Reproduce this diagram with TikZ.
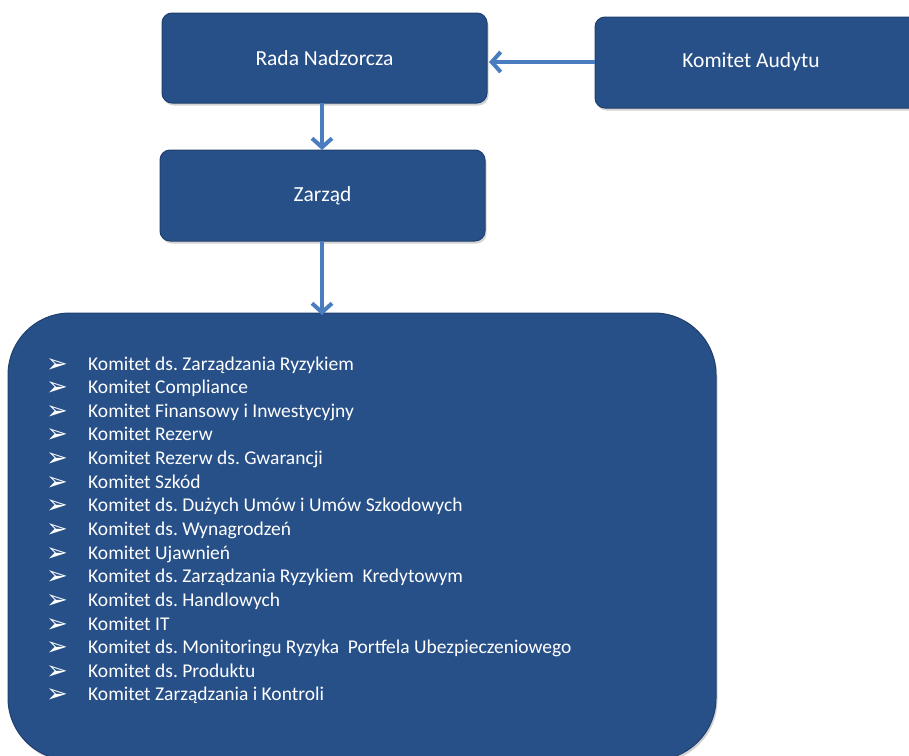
\documentclass[tikz,border=0pt]{standalone}
\usepackage{fontspec}
\setmainfont{Carlito}
\newfontfamily\symfont{DejaVu Sans}
\usetikzlibrary{arrows.meta,shadows}
\definecolor{boxfill}{HTML}{285088}
\definecolor{boxedge}{HTML}{1F3F6E}
\definecolor{arrowblue}{HTML}{4A7DC0}
\frenchspacing
\tikzset{
  orgbox/.style={draw=boxedge, line width=1pt, fill=boxfill, rounded corners=10pt,
    drop shadow={shadow xshift=1.5pt, shadow yshift=-2.5pt, opacity=0.35}},
  boxtext/.style={text=white, font=\fontsize{21.5}{24}\selectfont},
  link/.style={draw=arrowblue, line width=4pt, -{Straight Barb[length=9pt,width=20pt,line width=4pt]}},
  item/.style={text=white, anchor=base west, font=\fontsize{19.5}{22}\selectfont, inner sep=0pt},
  bullet/.style={text=white, anchor=base west, font=\symfont\fontsize{26}{28}\selectfont,
    inner sep=0pt, text height=14pt, text depth=0pt}
}
\begin{document}
\begin{tikzpicture}[x=1pt,y=-1pt]
\useasboundingbox (0,0) rectangle (909,755);
% boxes
\path[orgbox] (162,13) rectangle (487,103);
\node[boxtext] (rada) at (324.5,58) {Rada Nadzorcza};
\coordinate (radaE) at (489,62);
\coordinate (radaS) at (322,103);
\path[orgbox] (160,150) rectangle (485,241);
\node[boxtext] (zarzad) at (322.5,196) {Zarząd};
\coordinate (zarzadN) at (322,150);
\coordinate (zarzadS) at (322,241);
\path[orgbox] (595,17) rectangle (930,108);
\node[boxtext] (audyt) at (751,62) {Komitet Audytu};
\coordinate (audytW) at (595,62);
\path[orgbox, rounded corners=62pt] (8,313) rectangle (716,760);
\coordinate (bigN) at (322,313);
% list
\foreach \t [count=\i from 0] in {%
Komitet ds. Zarządzania Ryzykiem,
Komitet Compliance,
Komitet Finansowy i Inwestycyjny,
Komitet Rezerw,
Komitet Rezerw ds. Gwarancji,
Komitet Szkód,
Komitet ds. Dużych Umów i Umów Szkodowych,
Komitet ds. Wynagrodzeń,
Komitet Ujawnień,
Komitet ds. Zarządzania Ryzykiem~ Kredytowym,
Komitet ds. Handlowych,
Komitet IT,
Komitet ds. Monitoringu Ryzyka~ Portfela Ubezpieczeniowego,
Komitet ds. Produktu,
Komitet Zarządzania i Kontroli}{
  \node[bullet] (b\i) at (46,{372+23.64*\i}) {➢};
  \node[item] (t\i) at (88,{370+23.64*\i}) {\t};
}
% connectors
\draw[link] (audytW) -- (radaE);
\draw[link] (radaS) -- (zarzadN);
\draw[link] (zarzadS) -- ([yshift=-2pt]bigN);
\end{tikzpicture}
\end{document}
